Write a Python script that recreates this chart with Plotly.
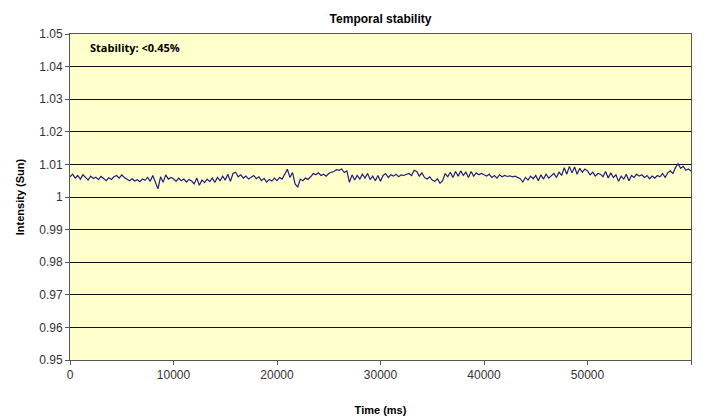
import plotly.graph_objects as go

time_step_ms = 250
intensity = [
    # 0 - 5000
    1.0062, 1.0070, 1.0058, 1.0066, 1.0055, 1.0068, 1.0060, 1.0052, 1.0064, 1.0057,
    1.0061, 1.0053, 1.0063, 1.0056, 1.0050, 1.0059, 1.0054, 1.0062, 1.0066, 1.0058,
    # 5000 - 10000
    1.0068, 1.0060, 1.0055, 1.0050, 1.0056, 1.0049, 1.0053, 1.0047, 1.0055, 1.0051,
    1.0060, 1.0048, 1.0066, 1.0044, 1.0025, 1.0062, 1.0045, 1.0068, 1.0055, 1.0060,
    # 10000 - 15000
    1.0056, 1.0048, 1.0058, 1.0050, 1.0055, 1.0046, 1.0054, 1.0049, 1.0040, 1.0058,
    1.0036, 1.0052, 1.0044, 1.0055, 1.0047, 1.0058, 1.0045, 1.0060, 1.0050, 1.0064,
    # 15000 - 20000
    1.0052, 1.0070, 1.0048, 1.0072, 1.0076, 1.0062, 1.0068, 1.0058, 1.0064, 1.0055,
    1.0060, 1.0066, 1.0056, 1.0062, 1.0050, 1.0057, 1.0046, 1.0054, 1.0049, 1.0058,
    # 20000 - 25000
    1.0050, 1.0060, 1.0055, 1.0068, 1.0085, 1.0060, 1.0075, 1.0040, 1.0030, 1.0055,
    1.0050, 1.0058, 1.0054, 1.0062, 1.0072, 1.0068, 1.0074, 1.0066, 1.0070, 1.0064,
    # 25000 - 30000
    1.0072, 1.0076, 1.0078, 1.0084, 1.0082, 1.0086, 1.0075, 1.0080, 1.0045, 1.0068,
    1.0052, 1.0066, 1.0055, 1.0070, 1.0058, 1.0072, 1.0054, 1.0064, 1.0050, 1.0066,
    # 30000 - 35000
    1.0048, 1.0066, 1.0072, 1.0060, 1.0068, 1.0064, 1.0070, 1.0062, 1.0068, 1.0066,
    1.0070, 1.0072, 1.0066, 1.0082, 1.0078, 1.0064, 1.0074, 1.0060, 1.0055, 1.0062,
    # 35000 - 40000
    1.0052, 1.0048, 1.0056, 1.0042, 1.0050, 1.0072, 1.0062, 1.0076, 1.0060, 1.0078,
    1.0064, 1.0080, 1.0066, 1.0076, 1.0060, 1.0078, 1.0064, 1.0074, 1.0068, 1.0072,
    # 40000 - 45000
    1.0068, 1.0064, 1.0070, 1.0060, 1.0066, 1.0058, 1.0068, 1.0062, 1.0066, 1.0063,
    1.0065, 1.0062, 1.0064, 1.0060, 1.0056, 1.0046, 1.0060, 1.0052, 1.0064, 1.0056,
    # 45000 - 50000
    1.0066, 1.0050, 1.0068, 1.0055, 1.0070, 1.0058, 1.0064, 1.0072, 1.0060, 1.0076,
    1.0066, 1.0090, 1.0070, 1.0094, 1.0074, 1.0092, 1.0070, 1.0088, 1.0076, 1.0086,
    # 50000 - 55000
    1.0080, 1.0068, 1.0076, 1.0064, 1.0072, 1.0070, 1.0062, 1.0078, 1.0058, 1.0074,
    1.0060, 1.0068, 1.0048, 1.0064, 1.0055, 1.0070, 1.0050, 1.0066, 1.0060, 1.0070,
    # 55000 - 60000
    1.0064, 1.0068, 1.0060, 1.0066, 1.0056, 1.0064, 1.0058, 1.0066, 1.0062, 1.0072,
    1.0060, 1.0074, 1.0080, 1.0072, 1.0090, 1.0102, 1.0088, 1.0094, 1.0082, 1.0086,
    1.0080,
]
time_ms = [i * time_step_ms for i in range(len(intensity))]

y_tick_vals = [0.95, 0.96, 0.97, 0.98, 0.99, 1.00, 1.01, 1.02, 1.03, 1.04, 1.05]
y_tick_text = ["0.95", "0.96", "0.97", "0.98", "0.99", "1", "1.01", "1.02", "1.03", "1.04", "1.05"]
x_tick_vals = [0, 10000, 20000, 30000, 40000, 50000, 60000]
x_tick_text = ["0", "10000", "20000", "30000", "40000", "50000", "60000"]

font_family = "Liberation Sans, Arial, sans-serif"

fig = go.Figure()
fig.add_trace(go.Scatter(
    x=time_ms, y=intensity, mode="lines",
    line=dict(color="#1f1f78", width=1.2),
    showlegend=False, hoverinfo="x+y",
))

fig.update_layout(
    width=706, height=419,
    margin=dict(l=70, r=15, t=34, b=59, autoexpand=False),
    paper_bgcolor="white",
    plot_bgcolor="#ffffcc",
    font=dict(family=font_family, size=12, color="#222222"),
    title=dict(text="<b>Temporal stability</b>", x=(70 + 310.5) / 706, xanchor="center",
               y=1 - 19 / 419, yanchor="middle", font=dict(size=12, color="black")),
    xaxis=dict(
        range=[0, 60000], tickvals=x_tick_vals, ticktext=x_tick_text,
        showgrid=False, zeroline=False, automargin=False,
        showline=True, linecolor="#555555", linewidth=1, mirror=True,
        ticks="outside", ticklen=4, tickcolor="#555555",
        tickfont=dict(size=12, color="#333333"),
        title=dict(text="<b>Time (ms)</b>", standoff=24, font=dict(size=11, color="black")),
    ),
    yaxis=dict(
        range=[0.95, 1.05], tickvals=y_tick_vals, ticktext=y_tick_text,
        showgrid=True, gridcolor="#111111", gridwidth=1, zeroline=False, automargin=False,
        showline=True, linecolor="#555555", linewidth=1, mirror=True,
        ticks="outside", ticklen=4, tickcolor="#555555",
        tickfont=dict(size=12, color="#333333"),
        title=dict(text="<b>Intensity (Sun)</b>", standoff=12, font=dict(size=11, color="black")),
    ),
    annotations=[dict(
        text="<b>Stability: <0.45%</b>", xref="paper", yref="paper",
        x=(88 - 70) / 621, y=(360 - 48) / 326, xanchor="left", yanchor="middle",
        showarrow=False, font=dict(size=11, color="black", family="Open Sans, sans-serif"),
    )],
)

fig.write_html("out.html")
